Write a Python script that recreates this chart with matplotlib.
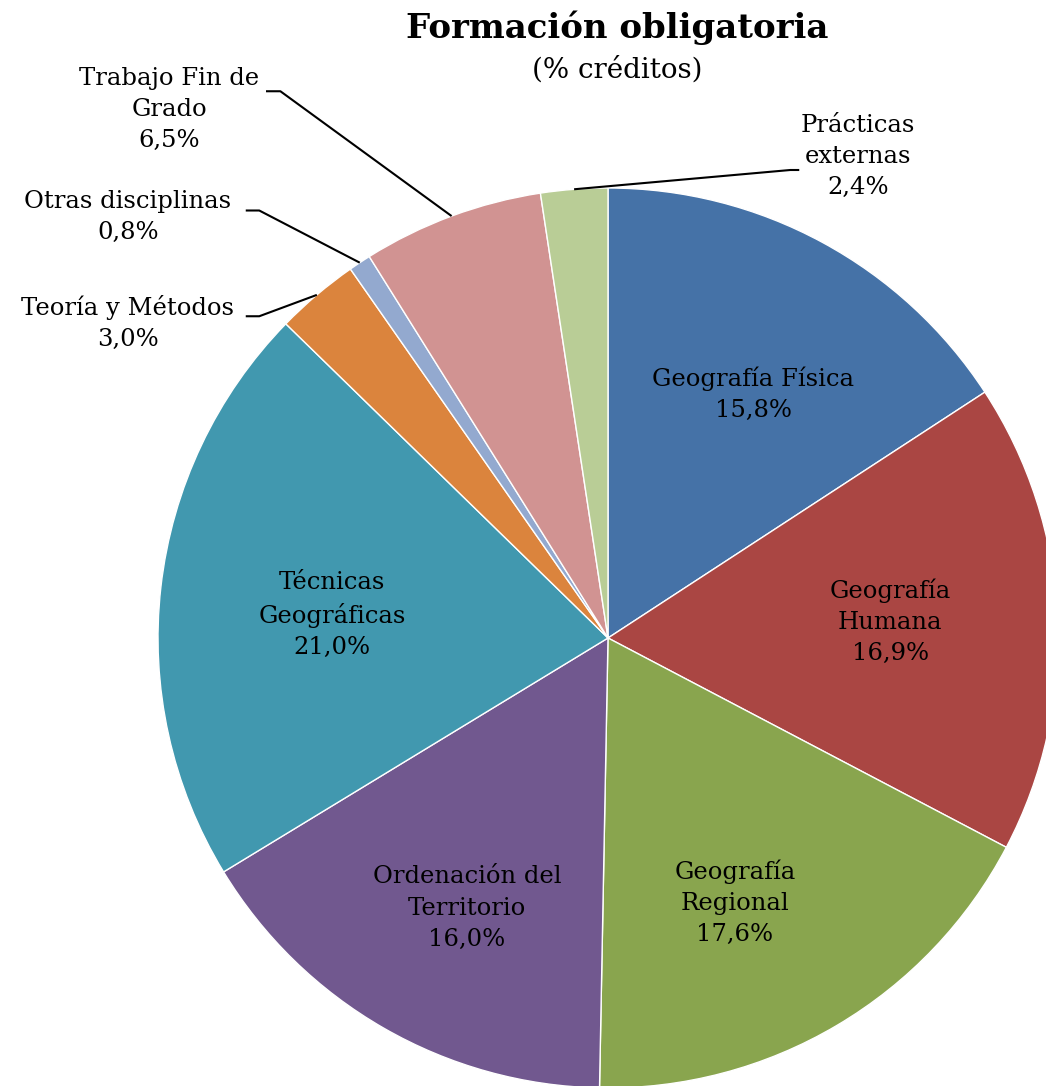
import numpy as np
import matplotlib.pyplot as plt

# data (clockwise from 12 o'clock)
categories = ["Geografía Física", "Geografía\nHumana", "Geografía\nRegional",
              "Ordenación del\nTerritorio", "Técnicas\nGeográficas",
              "Teoría y Métodos", "Otras disciplinas", "Trabajo Fin de\nGrado",
              "Prácticas\nexternas"]
values = [15.8, 16.9, 17.6, 16.0, 21.0, 3.0, 0.8, 6.5, 2.4]
colors = ["#4572A7", "#AA4643", "#89A54E", "#71588F", "#4198AF",
          "#DB843D", "#93A9CF", "#D19392", "#B9CD96"]

inside = [0, 1, 2, 3, 4]
# radius and angular nudge (deg) of the inside labels
inside_r = [0.63, 0.628, 0.653, 0.677, 0.615]
inside_dang = [-2.4, 0.6, -5.0, 2.3, 1.7]
outside = [5, 6, 7, 8]
# label box anchors (data units) for outside labels
outside_xy = {5: (-1.067, 0.70), 6: (-1.067, 0.935), 7: (-0.975, 1.175), 8: (0.555, 1.07)}
# elbow points of leader lines
elbow_xy = {5: (-0.775, 0.715), 6: (-0.775, 0.95), 7: (-0.728, 1.215), 8: (0.405, 1.04)}
start_xy = {5: (-0.805, 0.715), 6: (-0.805, 0.95), 7: (-0.76, 1.215), 8: (0.425, 1.04)}

fmt = lambda v: f"{v:.1f}".replace(".", ",") + "%"

W, H = 1046, 1086
fig = plt.figure(figsize=(W / 100, H / 100), dpi=100)
ax = fig.add_axes([0, 0, 1, 1])
cx, cy, scale = 608, 638, 450

wedges, _ = ax.pie(values, colors=colors, startangle=90, counterclock=False,
                   radius=1.0, wedgeprops=dict(edgecolor="white", linewidth=1.0))
ax.set_xlim(-cx / scale, (W - cx) / scale)
ax.set_ylim(-(H - cy) / scale, cy / scale)
ax.set_aspect("equal")
ax.axis("off")

font = dict(family="DejaVu Serif", fontsize=17.5, color="black")

for i, w in enumerate(wedges):
    mid = (w.theta1 + w.theta2) / 2
    txt = categories[i] + "\n" + fmt(values[i])
    if i in inside:
        k = inside.index(i)
        a = np.deg2rad(mid + inside_dang[k])
        r = inside_r[k]
        ax.text(r * np.cos(a), r * np.sin(a), txt, ha="center", va="center",
                linespacing=1.45, **font)
    else:
        a = np.deg2rad(mid)
        ex, ey = np.cos(a), np.sin(a)
        tx, ty = outside_xy[i]
        ax.text(tx, ty, txt, ha="center", va="center", linespacing=1.45, **font)
        sx, sy = start_xy[i]
        bx, by = elbow_xy[i]
        ax.plot([sx, bx, ex], [sy, by, ey], color="black", lw=1.5,
                solid_capstyle="butt", clip_on=False)

fig.text(617 / W, 1 - 28 / H, "Formación obligatoria", ha="center", va="center",
         family="DejaVu Serif", fontsize=24.5, fontweight="bold")
fig.text(617 / W, 1 - 70 / H, "(% créditos)", ha="center", va="center",
         family="DejaVu Serif", fontsize=20)

fig.savefig("out.png", dpi=100)
